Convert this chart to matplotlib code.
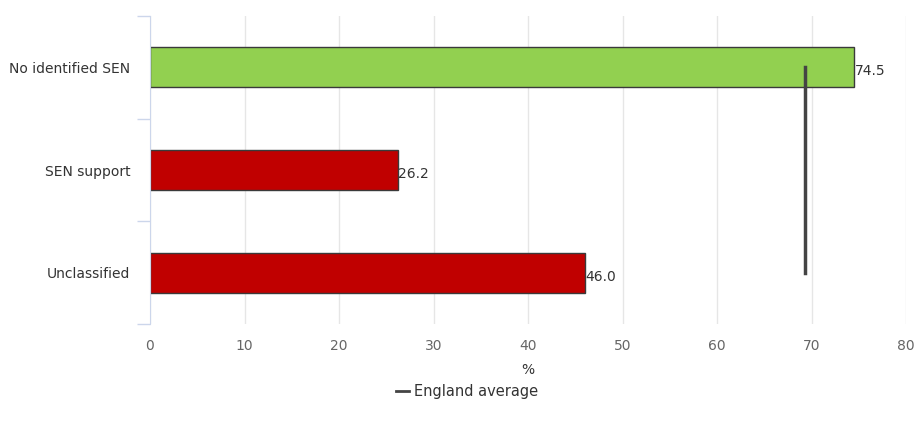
import matplotlib
matplotlib.use('Agg')
import matplotlib.pyplot as plt
from matplotlib.lines import Line2D

# attainment by SEN status
categories = ['No identified SEN', 'SEN support', 'Unclassified']
values = [74.5, 26.2, 46.0]
colors = ['#92d050', '#c00000', '#c00000']
england_avg = 69.3

plt.rcParams['font.family'] = 'DejaVu Sans'

fig = plt.figure(figsize=(9.16, 4.25), dpi=100)
ax = fig.add_axes([150 / 916, 1 - 324 / 425, 756 / 916, 308 / 425])

pos = list(range(len(categories)))
ax.barh(pos, values, height=0.39, color=colors, edgecolor='#3a3a3a', linewidth=1, zorder=3)

for p, v in zip(pos, values):
    ax.text(v + 0.05, p + 0.04, f'{v:.1f}', va='center', ha='left', fontsize=10, color='#333333', zorder=5)

# England average marker across the categories
ax.plot([england_avg, england_avg], [pos[0], pos[-1]], color='#444444', lw=2.5, zorder=4)

ax.set_xlim(0, 80)
ax.set_ylim(len(categories) - 0.5, -0.5)
ax.set_xticks(range(0, 81, 10))
ax.set_yticks(pos)
ax.set_yticklabels(categories)
ax.set_yticks([-0.5, 0.5, 1.5, 2.5], minor=True)

ax.tick_params(axis='x', length=0, pad=11, labelsize=10, labelcolor='#666666')
ax.tick_params(axis='y', which='major', length=0, pad=14, labelsize=10, labelcolor='#333333')
ax.tick_params(axis='y', which='minor', length=9.5, width=1, color='#ccd6eb')

ax.grid(axis='x', color='#e6e6e6', lw=1, zorder=0)
for s in ['top', 'right', 'bottom']:
    ax.spines[s].set_visible(False)
ax.spines['left'].set_color('#ccd6eb')
ax.spines['left'].set_zorder(4)

ax.set_xlabel('%', fontsize=10, color='#333333', labelpad=7)

handle = Line2D([], [], color='#444444', lw=2)
fig.legend([handle], ['England average'], loc='center', bbox_to_anchor=(0.51, 0.078),
           frameon=False, fontsize=10.5, handlelength=0.9, handletextpad=0.3,
           labelcolor='#333333')

fig.savefig('out.png', dpi=100)
